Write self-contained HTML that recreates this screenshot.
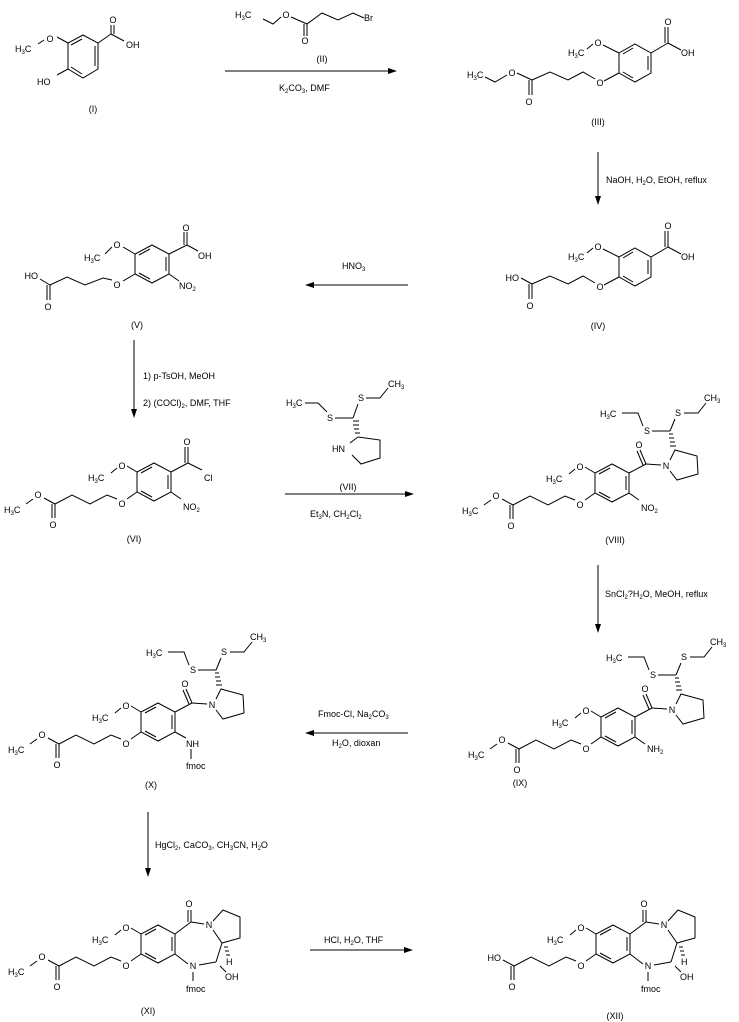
<!DOCTYPE html>
<html><head><meta charset="utf-8"><style>
html,body{margin:0;padding:0;background:#fff}
svg{display:block}
text{font-family:"Liberation Sans",sans-serif;font-size:9px;fill:#000}
line,polyline,polygon{stroke:#000;stroke-width:1;fill:none}
.m{text-anchor:middle}
.e{text-anchor:end}
.ah{fill:#000;stroke:none}
</style></head><body>
<svg width="739" height="1022" viewBox="0 0 739 1022" xmlns="http://www.w3.org/2000/svg">

<!-- (I) -->
<g>
<polygon points="83,35 98,43 98,69 83,78 68,69 68,43"/>
<line x1="71" y1="45" x2="82" y2="39"/><line x1="95" y1="46" x2="95" y2="66"/><line x1="71" y1="67" x2="82" y2="74"/>
<line x1="68" y1="43" x2="57" y2="37"/><text class="m" x="50" y="42">O</text>
<line x1="44" y1="40" x2="38" y2="44"/><text x="15" y="52">H<tspan font-size="6" dy="2">3</tspan><tspan dy="-2">C</tspan></text>
<line x1="68" y1="69" x2="57" y2="75"/><text x="37" y="85">HO</text>
<line x1="98" y1="43" x2="111" y2="34"/><line x1="111" y1="34" x2="111" y2="25"/><line x1="114" y1="34" x2="114" y2="25"/>
<text class="m" x="113" y="23">O</text><line x1="111" y1="34" x2="124" y2="41"/><text x="126" y="48">OH</text>
<text class="m" x="93" y="112">(I)</text>
</g>

<!-- (II) and arrow 1 -->
<text x="235" y="18">H<tspan font-size="6" dy="2">3</tspan><tspan dy="-2">C</tspan></text>
<polyline points="263,19 273,24 281,17"/><text class="m" x="286" y="18">O</text>
<polyline points="291,17 307,24 322,13 338,20 353,13 364,18"/>
<line x1="307" y1="24" x2="307" y2="36"/><line x1="304" y1="24" x2="304" y2="36"/>
<text class="m" x="305" y="44">O</text><text x="364" y="21">Br</text>
<text class="m" x="322" y="62">(II)</text>
<line x1="225" y1="71" x2="390" y2="71"/><polygon class="ah" points="397,71 388,68 388,74"/>
<text x="279" y="91">K<tspan font-size="6" dy="2">2</tspan><tspan dy="-2">CO</tspan><tspan font-size="6" dy="2">3</tspan><tspan dy="-2">, DMF</tspan></text>

<!-- (III) -->
<g transform="translate(635,63)">
<polygon points="0,-19 16,-10 16,10 0,19 -16,10 -16,-10"/>
<line x1="-12" y1="-9" x2="-2" y2="-15"/><line x1="13" y1="-7" x2="13" y2="7"/><line x1="-12" y1="9" x2="-2" y2="15"/>
<line x1="16" y1="-10" x2="33" y2="-20"/><line x1="33" y1="-20" x2="33" y2="-36"/><line x1="30" y1="-20" x2="30" y2="-36"/>
<text class="m" x="33" y="-38">O</text><line x1="33" y1="-20" x2="46" y2="-13"/><text x="46" y="-7">OH</text>
<line x1="-16" y1="-10" x2="-32" y2="-18"/><text class="m" x="-37" y="-17">O</text>
<line x1="-42" y1="-19" x2="-48" y2="-14"/><text x="-67" y="-7">H<tspan font-size="6" dy="2">3</tspan><tspan dy="-2">C</tspan></text>
<line x1="-16" y1="10" x2="-31" y2="18"/><text class="m" x="-35" y="23">O</text>
<polyline points="-40,16 -52,9 -67,17 -85,9 -103,17"/>
<line x1="-103" y1="17" x2="-103" y2="32"/><line x1="-106" y1="17" x2="-106" y2="32"/><text class="m" x="-106" y="42">O</text>
<line x1="-103" y1="17" x2="-118" y2="10"/><text class="m" x="-123" y="13">O</text>
<polyline points="-128,12 -140,19 -150,14"/><text x="-168" y="15">H<tspan font-size="6" dy="2">3</tspan><tspan dy="-2">C</tspan></text>
<text class="m" x="-37" y="62">(III)</text>
</g>

<!-- arrow 2 -->
<line x1="598" y1="152" x2="598" y2="198"/><polygon class="ah" points="598,205 595,196 601,196"/>
<text x="606" y="183">NaOH, H<tspan font-size="6" dy="2">2</tspan><tspan dy="-2">O, EtOH, reflux</tspan></text>

<!-- (IV) -->
<g transform="translate(635,267)">
<polygon points="0,-19 16,-10 16,10 0,19 -16,10 -16,-10"/>
<line x1="-12" y1="-9" x2="-2" y2="-15"/><line x1="13" y1="-7" x2="13" y2="7"/><line x1="-12" y1="9" x2="-2" y2="15"/>
<line x1="16" y1="-10" x2="33" y2="-20"/><line x1="33" y1="-20" x2="33" y2="-36"/><line x1="30" y1="-20" x2="30" y2="-36"/>
<text class="m" x="33" y="-38">O</text><line x1="33" y1="-20" x2="46" y2="-13"/><text x="46" y="-7">OH</text>
<line x1="-16" y1="-10" x2="-32" y2="-18"/><text class="m" x="-37" y="-17">O</text>
<line x1="-42" y1="-19" x2="-48" y2="-14"/><text x="-67" y="-7">H<tspan font-size="6" dy="2">3</tspan><tspan dy="-2">C</tspan></text>
<line x1="-16" y1="10" x2="-31" y2="18"/><text class="m" x="-35" y="23">O</text>
<polyline points="-40,16 -52,9 -67,17 -85,9 -103,17"/>
<line x1="-103" y1="17" x2="-103" y2="32"/><line x1="-106" y1="17" x2="-106" y2="32"/><text class="m" x="-105" y="42">O</text>
<line x1="-103" y1="17" x2="-114" y2="11"/><text class="e" x="-116" y="14">HO</text>
<text class="m" x="-37" y="62">(IV)</text>
</g>

<!-- arrow 3 -->
<line x1="408" y1="285" x2="312" y2="285"/><polygon class="ah" points="305,285 314,282 314,288"/>
<text x="342" y="269">HNO<tspan font-size="6" dy="2">3</tspan></text>

<!-- (V) -->
<g transform="translate(152,264)">
<polygon points="0,-19 17,-10 17,10 0,19 -17,10 -17,-10"/>
<line x1="-13" y1="-9" x2="-2" y2="-15"/><line x1="14" y1="-7" x2="14" y2="7"/><line x1="-13" y1="9" x2="-2" y2="15"/>
<line x1="17" y1="-10" x2="35" y2="-19"/><line x1="35" y1="-19" x2="35" y2="-32"/><line x1="32" y1="-19" x2="32" y2="-32"/>
<text class="m" x="34" y="-33">O</text>
<line x1="35" y1="-19" x2="46" y2="-13"/><text x="46" y="-5">OH</text>
<line x1="17" y1="10" x2="27" y2="17"/><text x="27" y="25">NO<tspan font-size="6" dy="2">2</tspan></text>
<line x1="-17" y1="-10" x2="-29" y2="-17"/><text class="m" x="-35" y="-16">O</text>
<line x1="-40" y1="-17" x2="-47" y2="-10"/><text x="-68" y="-3">H<tspan font-size="6" dy="2">3</tspan><tspan dy="-2">C</tspan></text>
<line x1="-17" y1="10" x2="-29" y2="17"/><text class="m" x="-35" y="24">O</text>
<polyline points="-40,16 -49,14 -67,21 -85,13 -102,21"/>
<line x1="-102" y1="21" x2="-102" y2="36"/><line x1="-105" y1="21" x2="-105" y2="36"/><text class="m" x="-104" y="46">O</text>
<line x1="-102" y1="21" x2="-112" y2="15"/><text class="e" x="-114" y="15">HO</text>
<text class="m" x="-15" y="64">(V)</text>
</g>

<!-- arrow 4 -->
<line x1="134" y1="340" x2="134" y2="411"/><polygon class="ah" points="134,418 131,409 137,409"/>
<text x="143" y="379">1) p-TsOH, MeOH</text>
<text x="143" y="406">2) (COCl)<tspan font-size="6" dy="2">2</tspan><tspan dy="-2">, DMF, THF</tspan></text>

<!-- (VI) -->
<g transform="translate(154,482)">
<polygon points="0,-19 17,-10 17,10 0,19 -17,10 -17,-10"/>
<line x1="-13" y1="-9" x2="-2" y2="-15"/><line x1="14" y1="-7" x2="14" y2="7"/><line x1="-13" y1="9" x2="-2" y2="15"/>
<line x1="-17" y1="-10" x2="-27" y2="-16"/><text class="m" x="-32" y="-13">O</text>
<line x1="-37" y1="-14" x2="-43" y2="-9"/><text x="-66" y="-1">H<tspan font-size="6" dy="2">3</tspan><tspan dy="-2">C</tspan></text>
<line x1="-17" y1="10" x2="-27" y2="17"/><text class="m" x="-32" y="25">O</text>
<polyline points="-37,17 -47,13 -64,22 -82,13 -99,22"/>
<line x1="-99" y1="22" x2="-99" y2="36"/><line x1="-102" y1="22" x2="-102" y2="36"/><text class="m" x="-101" y="46">O</text>
<line x1="-99" y1="22" x2="-110" y2="16"/><text class="m" x="-116" y="16">O</text>
<line x1="-121" y1="17" x2="-128" y2="22"/><text x="-150" y="31">H<tspan font-size="6" dy="2">3</tspan><tspan dy="-2">C</tspan></text>
<line x1="17" y1="-10" x2="34" y2="-19"/><line x1="34" y1="-19" x2="34" y2="-35"/><line x1="31" y1="-19" x2="31" y2="-35"/>
<text class="m" x="33" y="-37">O</text><line x1="34" y1="-19" x2="48" y2="-12"/><text x="50" y="-1">Cl</text>
<line x1="17" y1="10" x2="27" y2="17"/><text x="29" y="28">NO<tspan font-size="6" dy="2">2</tspan></text>
<text class="m" x="-20" y="60">(VI)</text>
</g>

<!-- (VII) + arrow 5 -->
<text x="286" y="406">H<tspan font-size="6" dy="2">3</tspan><tspan dy="-2">C</tspan></text>
<polyline points="305,403 318,403 327,412"/><text class="m" x="330" y="421">S</text>
<line x1="335" y1="418" x2="353" y2="418"/><line x1="353" y1="418" x2="358" y2="404"/>
<text class="m" x="361" y="401">S</text><polyline points="366,398 380,398 388,388"/>
<text x="388" y="387">CH<tspan font-size="6" dy="2">3</tspan></text>
<line x1="353" y1="421" x2="359" y2="421"/><line x1="353" y1="425" x2="359" y2="425"/><line x1="354" y1="429" x2="359" y2="429"/><line x1="355" y1="433" x2="360" y2="433"/>
<polyline points="358,437 380,440 380,458 361,464 352,455"/><line x1="350" y1="443" x2="358" y2="437"/>
<text x="332" y="452">HN</text>
<text class="m" x="348" y="490">(VII)</text>
<line x1="285" y1="494" x2="406" y2="494"/><polygon class="ah" points="414,494 405,491 405,497"/>
<text x="310" y="517">Et<tspan font-size="6" dy="2">3</tspan><tspan dy="-2">N, CH</tspan><tspan font-size="6" dy="2">2</tspan><tspan dy="-2">Cl</tspan><tspan font-size="6" dy="2">2</tspan></text>

<!-- (VIII) -->
<g transform="translate(612,483)">
<polygon points="0,-19 17,-10 17,10 0,19 -17,10 -17,-10"/>
<line x1="-13" y1="-9" x2="-2" y2="-15"/><line x1="14" y1="-7" x2="14" y2="7"/><line x1="-13" y1="9" x2="-2" y2="15"/>
<line x1="-17" y1="-10" x2="-27" y2="-16"/><text class="m" x="-32" y="-13">O</text>
<line x1="-37" y1="-14" x2="-43" y2="-9"/><text x="-66" y="-1">H<tspan font-size="6" dy="2">3</tspan><tspan dy="-2">C</tspan></text>
<line x1="-17" y1="10" x2="-27" y2="17"/><text class="m" x="-32" y="25">O</text>
<polyline points="-37,17 -47,13 -64,22 -82,13 -99,22"/>
<line x1="-99" y1="22" x2="-99" y2="36"/><line x1="-102" y1="22" x2="-102" y2="36"/><text class="m" x="-101" y="46">O</text>
<line x1="-99" y1="22" x2="-110" y2="16"/><text class="m" x="-116" y="16">O</text>
<line x1="-121" y1="17" x2="-128" y2="22"/><text x="-150" y="31">H<tspan font-size="6" dy="2">3</tspan><tspan dy="-2">C</tspan></text>
<line x1="17" y1="10" x2="27" y2="17"/><text x="29" y="28">NO<tspan font-size="6" dy="2">2</tspan></text>
<line x1="17" y1="-10" x2="34" y2="-19"/><line x1="34" y1="-19" x2="28" y2="-33"/><line x1="31" y1="-18" x2="25" y2="-32"/>
<text class="m" x="27" y="-35">O</text><line x1="34" y1="-19" x2="49" y2="-18"/><text class="m" x="54" y="-14">N</text>
<polyline points="58,-23 63,-33 85,-27 86,-9 65,-3 58,-12"/>
<line x1="58" y1="-37" x2="64" y2="-37"/><line x1="58" y1="-41" x2="63" y2="-41"/><line x1="57" y1="-45" x2="62" y2="-45"/><line x1="57" y1="-49" x2="61" y2="-49"/>
<line x1="58" y1="-52" x2="40" y2="-52"/><text class="m" x="35" y="-49">S</text>
<polyline points="31,-57 26,-70 10,-70"/><text x="-12" y="-66">H<tspan font-size="6" dy="2">3</tspan><tspan dy="-2">C</tspan></text>
<line x1="58" y1="-52" x2="63" y2="-64"/><text class="m" x="66" y="-67">S</text>
<polyline points="72,-70 86,-70 94,-80"/><text x="92" y="-82">CH<tspan font-size="6" dy="2">3</tspan></text>
<text class="m" x="3" y="60">(VIII)</text>
</g>

<!-- arrow 6 -->
<line x1="598" y1="565" x2="598" y2="626"/><polygon class="ah" points="598,633 595,624 601,624"/>
<text x="605" y="597">SnCl<tspan font-size="6" dy="2">2</tspan><tspan dy="-2">?H</tspan><tspan font-size="6" dy="2">2</tspan><tspan dy="-2">O, MeOH, reflux</tspan></text>

<!-- (IX) -->
<g transform="translate(618,727)">
<polygon points="0,-19 17,-10 17,10 0,19 -17,10 -17,-10"/>
<line x1="-13" y1="-9" x2="-2" y2="-15"/><line x1="14" y1="-7" x2="14" y2="7"/><line x1="-13" y1="9" x2="-2" y2="15"/>
<line x1="-17" y1="-10" x2="-27" y2="-16"/><text class="m" x="-32" y="-13">O</text>
<line x1="-37" y1="-14" x2="-43" y2="-9"/><text x="-66" y="-1">H<tspan font-size="6" dy="2">3</tspan><tspan dy="-2">C</tspan></text>
<line x1="-17" y1="10" x2="-27" y2="17"/><text class="m" x="-32" y="25">O</text>
<polyline points="-37,17 -47,13 -64,22 -82,13 -99,22"/>
<line x1="-99" y1="22" x2="-99" y2="36"/><line x1="-102" y1="22" x2="-102" y2="36"/><text class="m" x="-101" y="46">O</text>
<line x1="-99" y1="22" x2="-110" y2="16"/><text class="m" x="-116" y="16">O</text>
<line x1="-121" y1="17" x2="-128" y2="22"/><text x="-150" y="31">H<tspan font-size="6" dy="2">3</tspan><tspan dy="-2">C</tspan></text>
<line x1="17" y1="10" x2="27" y2="17"/><text x="29" y="25">NH<tspan font-size="6" dy="2">2</tspan></text>
<line x1="17" y1="-10" x2="34" y2="-19"/><line x1="34" y1="-19" x2="28" y2="-33"/><line x1="31" y1="-18" x2="25" y2="-32"/>
<text class="m" x="27" y="-35">O</text><line x1="34" y1="-19" x2="49" y2="-18"/><text class="m" x="54" y="-14">N</text>
<polyline points="58,-23 63,-33 85,-27 86,-9 65,-3 58,-12"/>
<line x1="58" y1="-37" x2="64" y2="-37"/><line x1="58" y1="-41" x2="63" y2="-41"/><line x1="57" y1="-45" x2="62" y2="-45"/><line x1="57" y1="-49" x2="61" y2="-49"/>
<line x1="58" y1="-52" x2="40" y2="-52"/><text class="m" x="35" y="-49">S</text>
<polyline points="31,-57 26,-70 10,-70"/><text x="-12" y="-66">H<tspan font-size="6" dy="2">3</tspan><tspan dy="-2">C</tspan></text>
<line x1="58" y1="-52" x2="63" y2="-64"/><text class="m" x="66" y="-67">S</text>
<polyline points="72,-70 86,-70 94,-80"/><text x="92" y="-82">CH<tspan font-size="6" dy="2">3</tspan></text>
<text class="m" x="-98" y="59">(IX)</text>
</g>

<!-- arrow 7 -->
<line x1="408" y1="733" x2="312" y2="733"/><polygon class="ah" points="305,733 314,730 314,736"/>
<text x="318" y="717">Fmoc-Cl, Na<tspan font-size="6" dy="2">2</tspan><tspan dy="-2">CO</tspan><tspan font-size="6" dy="2">3</tspan></text>
<text x="332" y="746">H<tspan font-size="6" dy="2">2</tspan><tspan dy="-2">O, dioxan</tspan></text>

<!-- (X) -->
<g transform="translate(158,722)">
<polygon points="0,-19 17,-10 17,10 0,19 -17,10 -17,-10"/>
<line x1="-13" y1="-9" x2="-2" y2="-15"/><line x1="14" y1="-7" x2="14" y2="7"/><line x1="-13" y1="9" x2="-2" y2="15"/>
<line x1="-17" y1="-10" x2="-27" y2="-16"/><text class="m" x="-32" y="-13">O</text>
<line x1="-37" y1="-14" x2="-43" y2="-9"/><text x="-66" y="-1">H<tspan font-size="6" dy="2">3</tspan><tspan dy="-2">C</tspan></text>
<line x1="-17" y1="10" x2="-27" y2="17"/><text class="m" x="-32" y="25">O</text>
<polyline points="-37,17 -47,13 -64,22 -82,13 -99,22"/>
<line x1="-99" y1="22" x2="-99" y2="36"/><line x1="-102" y1="22" x2="-102" y2="36"/><text class="m" x="-101" y="46">O</text>
<line x1="-99" y1="22" x2="-110" y2="16"/><text class="m" x="-116" y="16">O</text>
<line x1="-121" y1="17" x2="-128" y2="22"/><text x="-150" y="31">H<tspan font-size="6" dy="2">3</tspan><tspan dy="-2">C</tspan></text>
<line x1="17" y1="10" x2="28" y2="16"/><text x="28" y="25">NH</text>
<line x1="33" y1="27" x2="33" y2="37"/><text x="28" y="47">fmoc</text>
<line x1="17" y1="-10" x2="34" y2="-19"/><line x1="34" y1="-19" x2="28" y2="-33"/><line x1="31" y1="-18" x2="25" y2="-32"/>
<text class="m" x="27" y="-35">O</text><line x1="34" y1="-19" x2="49" y2="-18"/><text class="m" x="54" y="-14">N</text>
<polyline points="58,-23 63,-33 85,-27 86,-9 65,-3 58,-12"/>
<line x1="58" y1="-37" x2="64" y2="-37"/><line x1="58" y1="-41" x2="63" y2="-41"/><line x1="57" y1="-45" x2="62" y2="-45"/><line x1="57" y1="-49" x2="61" y2="-49"/>
<line x1="58" y1="-52" x2="40" y2="-52"/><text class="m" x="35" y="-49">S</text>
<polyline points="31,-57 26,-70 10,-70"/><text x="-12" y="-66">H<tspan font-size="6" dy="2">3</tspan><tspan dy="-2">C</tspan></text>
<line x1="58" y1="-52" x2="63" y2="-64"/><text class="m" x="66" y="-67">S</text>
<polyline points="72,-70 86,-70 94,-80"/><text x="92" y="-82">CH<tspan font-size="6" dy="2">3</tspan></text>
<text class="m" x="-7" y="66">(X)</text>
</g>

<!-- arrow 8 -->
<line x1="148" y1="812" x2="148" y2="870"/><polygon class="ah" points="148,877 145,868 151,868"/>
<text x="155" y="848">HgCl<tspan font-size="6" dy="2">2</tspan><tspan dy="-2">, CaCO</tspan><tspan font-size="6" dy="2">3</tspan><tspan dy="-2">, CH</tspan><tspan font-size="6" dy="2">3</tspan><tspan dy="-2">CN, H</tspan><tspan font-size="6" dy="2">2</tspan><tspan dy="-2">O</tspan></text>

<!-- (XI) -->
<g transform="translate(158,944)">
<polygon points="0,-19 17,-10 17,10 0,19 -17,10 -17,-10"/>
<line x1="-13" y1="-9" x2="-2" y2="-15"/><line x1="14" y1="-7" x2="14" y2="7"/><line x1="-13" y1="9" x2="-2" y2="15"/>
<line x1="-17" y1="-10" x2="-27" y2="-16"/><text class="m" x="-32" y="-13">O</text>
<line x1="-37" y1="-14" x2="-43" y2="-9"/><text x="-66" y="-1">H<tspan font-size="6" dy="2">3</tspan><tspan dy="-2">C</tspan></text>
<line x1="-17" y1="10" x2="-27" y2="17"/><text class="m" x="-32" y="25">O</text>
<polyline points="-37,17 -47,13 -64,22 -82,13 -99,22"/>
<line x1="-99" y1="22" x2="-99" y2="36"/><line x1="-102" y1="22" x2="-102" y2="36"/><text class="m" x="-101" y="46">O</text>
<line x1="-99" y1="22" x2="-110" y2="16"/><text class="m" x="-116" y="16">O</text>
<line x1="-121" y1="17" x2="-128" y2="22"/><text x="-150" y="31">H<tspan font-size="6" dy="2">3</tspan><tspan dy="-2">C</tspan></text>
<line x1="17" y1="-10" x2="33" y2="-22"/><line x1="33" y1="-22" x2="33" y2="-34"/><line x1="30" y1="-22" x2="30" y2="-34"/>
<text class="m" x="31" y="-37">O</text><line x1="33" y1="-22" x2="46" y2="-20"/><text class="m" x="51" y="-16">N</text>
<polyline points="55,-23 65,-34 82,-27 82,-6 64,-1 55,-14"/>
<line x1="64" y1="-1" x2="58" y2="18"/><line x1="58" y1="18" x2="41" y2="21"/><text class="m" x="35" y="25">N</text>
<line x1="30" y1="20" x2="17" y2="10"/><line x1="35" y1="28" x2="35" y2="37"/><text x="28" y="48">fmoc</text>
<line x1="62" y1="22" x2="68" y2="28"/><text x="67" y="36">OH</text>
<line x1="66" y1="3" x2="70" y2="3"/><line x1="67" y1="7" x2="71" y2="7"/><line x1="68" y1="11" x2="72" y2="11"/>
<text x="68" y="21">H</text>
<text class="m" x="-10" y="70">(XI)</text>
</g>

<!-- arrow 9 -->
<line x1="310" y1="950" x2="405" y2="950"/><polygon class="ah" points="413,950 404,947 404,953"/>
<text x="324" y="943">HCl, H<tspan font-size="6" dy="2">2</tspan><tspan dy="-2">O, THF</tspan></text>

<!-- (XII) -->
<g transform="translate(613,944)">
<polygon points="0,-19 17,-10 17,10 0,19 -17,10 -17,-10"/>
<line x1="-13" y1="-9" x2="-2" y2="-15"/><line x1="14" y1="-7" x2="14" y2="7"/><line x1="-13" y1="9" x2="-2" y2="15"/>
<line x1="-17" y1="-10" x2="-27" y2="-16"/><text class="m" x="-32" y="-13">O</text>
<line x1="-37" y1="-14" x2="-43" y2="-9"/><text x="-66" y="-1">H<tspan font-size="6" dy="2">3</tspan><tspan dy="-2">C</tspan></text>
<line x1="-17" y1="10" x2="-27" y2="17"/><text class="m" x="-32" y="25">O</text>
<polyline points="-37,17 -47,13 -64,22 -82,13 -99,22"/>
<line x1="-99" y1="22" x2="-99" y2="36"/><line x1="-102" y1="22" x2="-102" y2="36"/><text class="m" x="-101" y="46">O</text>
<line x1="-99" y1="22" x2="-110" y2="16"/><text class="e" x="-112" y="17">HO</text>
<line x1="17" y1="-10" x2="33" y2="-22"/><line x1="33" y1="-22" x2="33" y2="-34"/><line x1="30" y1="-22" x2="30" y2="-34"/>
<text class="m" x="31" y="-37">O</text><line x1="33" y1="-22" x2="46" y2="-20"/><text class="m" x="51" y="-16">N</text>
<polyline points="55,-23 65,-34 82,-27 82,-6 64,-1 55,-14"/>
<line x1="64" y1="-1" x2="58" y2="18"/><line x1="58" y1="18" x2="41" y2="21"/><text class="m" x="35" y="25">N</text>
<line x1="30" y1="20" x2="17" y2="10"/><line x1="35" y1="28" x2="35" y2="37"/><text x="28" y="48">fmoc</text>
<line x1="62" y1="22" x2="68" y2="28"/><text x="67" y="36">OH</text>
<line x1="66" y1="3" x2="70" y2="3"/><line x1="67" y1="7" x2="71" y2="7"/><line x1="68" y1="11" x2="72" y2="11"/>
<text x="68" y="21">H</text>
<text class="m" x="2" y="75">(XII)</text>
</g>

</svg>
</body></html>
